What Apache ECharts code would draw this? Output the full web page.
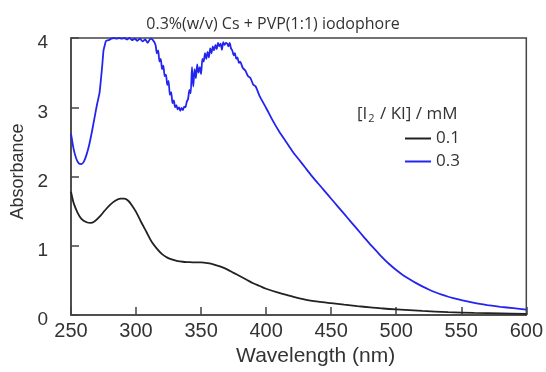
<!DOCTYPE html>
<html><head><meta charset="utf-8">
<script src="https://cdn.jsdelivr.net/npm/echarts@6/dist/echarts.min.js"></script>
<style>html,body{margin:0;padding:0;background:#fff}#c{width:546px;height:372px}</style>
</head><body><div id="c"></div>
<script>
const chartTitle = '0.3%(w/v) Cs + PVP(1:1) iodophore';
const xTicks = [250, 300, 350, 400, 450, 500, 550, 600];
const yTicks = [0, 1, 2, 3, 4];
const seriesNames = ['0.1', '0.3'];

const wl01 = [250,252,255,258,262,265,268,272,276,280,284,288,291,294,297,300,304,308,312,316,320,324,328,332,336,340,345,350,355,360,365,370,375,380,385,390,395,400,410,420,430,440,450,460,470,480,490,500,520,540,560,580,600];
const abs01 = [1.78,1.62,1.48,1.39,1.34,1.33,1.35,1.42,1.51,1.59,1.65,1.68,1.68,1.65,1.58,1.49,1.34,1.2,1.06,0.96,0.88,0.83,0.8,0.78,0.77,0.765,0.76,0.76,0.75,0.73,0.7,0.66,0.61,0.56,0.51,0.46,0.42,0.38,0.32,0.27,0.225,0.195,0.172,0.15,0.13,0.112,0.095,0.082,0.06,0.043,0.032,0.024,0.018];

const wl03 = [250,252,254,256,258,260,262,264,266,268,270,272,274,275,276,277,279,281,283,285,287,289,291,293,295,297,299,301,303,305,307,309,311,313,315,316,317,318,319,320,321,322,323,324,325,326,327,328,329,330,331,332,333,334,335,336,337,338,339,340,341,342,343,344,345,346,347,348,349,350,351,352,353,354,355,356,357,358,359,360,361,362,363,364,365,366,367,368,369,370,371,372,373,374,375,376,377,378,379,380,382,384,386,388,390,392,395,400,405,410,415,420,425,430,435,440,445,450,455,460,465,470,475,480,485,490,495,500,505,510,515,520,525,530,535,540,545,550,560,570,580,590,600];
const abs03 = [2.62,2.4,2.26,2.19,2.18,2.22,2.32,2.46,2.64,2.84,3.04,3.22,3.6,3.82,3.9,3.96,3.97,3.99,4.0,3.99,4.0,3.99,4.0,3.98,4.0,3.97,3.99,3.96,3.99,3.95,3.98,3.93,3.99,3.97,3.9,3.78,3.82,3.66,3.7,3.55,3.6,3.45,3.47,3.32,3.38,3.18,3.22,3.06,3.1,3.0,3.03,2.97,3.0,2.95,2.99,2.96,3.01,3.0,3.08,3.12,3.25,3.2,3.58,3.3,3.55,3.42,3.62,3.5,3.58,3.48,3.7,3.66,3.78,3.7,3.8,3.72,3.85,3.78,3.88,3.82,3.9,3.84,3.93,3.88,3.92,3.83,3.94,3.9,3.93,3.92,3.88,3.93,3.85,3.82,3.75,3.78,3.7,3.72,3.64,3.66,3.57,3.53,3.45,3.42,3.33,3.3,3.16,2.99,2.81,2.65,2.51,2.37,2.25,2.13,2.01,1.9,1.79,1.68,1.57,1.46,1.35,1.24,1.13,1.02,0.92,0.82,0.73,0.65,0.58,0.52,0.465,0.415,0.37,0.33,0.295,0.265,0.24,0.215,0.175,0.145,0.12,0.1,0.08];

const pairs = (xs, ys) => xs.map((x, i) => [x, ys[i]]);
const tfont = '"Open Sans", "DejaVu Sans", sans-serif';
const afont = '"Liberation Sans", Arial, sans-serif';

const chart = echarts.init(document.getElementById('c'), null, {renderer: 'canvas'});
chart.setOption({
  animation: false,
  backgroundColor: '#fff',
  title: [
    {text: chartTitle, left: 'center', top: 11,
     textStyle: {fontFamily: tfont, fontSize: 16, fontWeight: 'normal', color: '#333'}},
    {text: '[I{sub|2} / KI] / mM', left: 352, top: 99,
     textStyle: {fontFamily: tfont, fontSize: 17, fontWeight: 'normal', color: '#333',
       rich: {sub: {fontFamily: tfont, fontSize: 11, color: '#333', padding: [9, 1, 0, 1]}}}}
  ],
  legend: {
    data: seriesNames, orient: 'vertical', left: 400, top: 125,
    icon: 'rect', itemWidth: 26, itemHeight: 2, itemGap: 6,
    textStyle: {fontFamily: tfont, fontSize: 17, color: '#333', lineHeight: 16}
  },
  grid: {left: 71, right: 19, top: 38, bottom: 53, show: true, borderColor: '#444', borderWidth: 1.5, backgroundColor: 'transparent'},
  xAxis: {
    type: 'value', min: xTicks[0], max: xTicks[xTicks.length - 1], interval: 50,
    name: 'Wavelength (nm)', nameLocation: 'middle', nameGap: 29,
    nameTextStyle: {fontFamily: afont, fontSize: 21, color: '#333', padding: [0, 0, 0, 34]},
    axisLine: {show: true, lineStyle: {color: '#444', width: 1.5}},
    axisTick: {show: true, inside: true, length: 8, lineStyle: {color: '#444', width: 1.5}},
    axisLabel: {fontFamily: afont, fontSize: 20, color: '#333', margin: 6},
    splitLine: {show: false}
  },
  yAxis: {
    type: 'value', min: yTicks[0], max: yTicks[yTicks.length - 1], interval: 1,
    name: 'Absorbance', nameLocation: 'middle', nameGap: 44,
    nameTextStyle: {fontFamily: afont, fontSize: 18, color: '#333', padding: [0, 0, 0, 10]},
    axisLine: {show: true, lineStyle: {color: '#444', width: 1.5}},
    axisTick: {show: true, inside: true, length: 8, lineStyle: {color: '#444', width: 1.5}},
    axisLabel: {margin: 23, formatter: '{a|{value}}',
      rich: {a: {fontFamily: afont, fontSize: 19, color: '#333', padding: [10, 0, 0, 0]}}},
    splitLine: {show: false}
  },
  series: [
    {name: seriesNames[0], type: 'line', data: pairs(wl01, abs01), showSymbol: false, smooth: 0.3,
     lineStyle: {color: '#222', width: 1.8}, itemStyle: {color: '#222'}},
    {name: seriesNames[1], type: 'line', data: pairs(wl03, abs03), showSymbol: false, smooth: 0.2,
     lineStyle: {color: '#2424f0', width: 1.8}, itemStyle: {color: '#2424f0'}}
  ]
});
</script></body></html>
